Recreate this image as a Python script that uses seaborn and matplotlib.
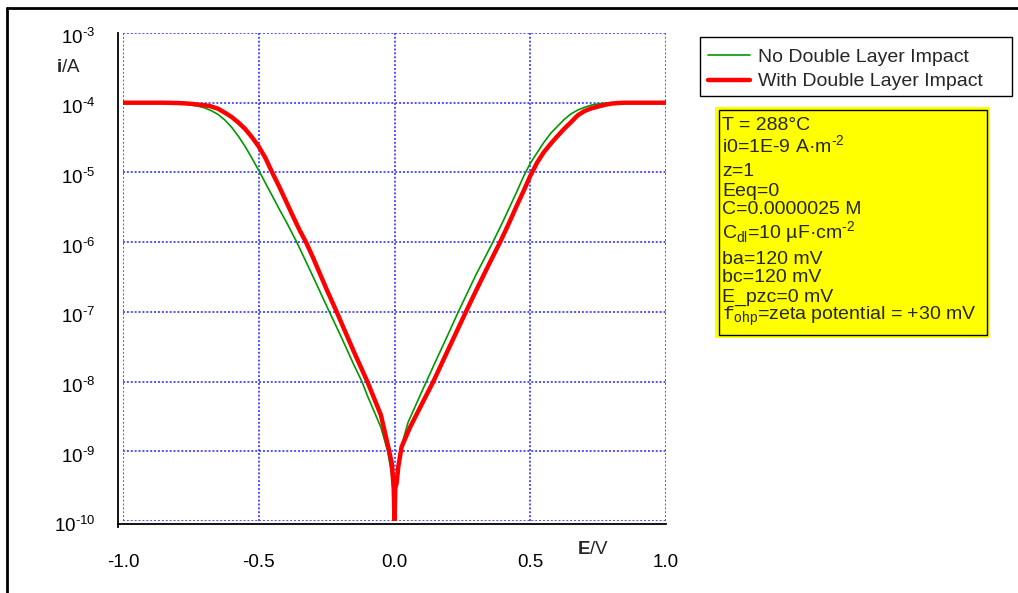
import matplotlib
matplotlib.use("Agg")
import matplotlib.pyplot as plt
import matplotlib.transforms as mtransforms
import seaborn as sns
import pandas as pd
from matplotlib.patches import Rectangle
from matplotlib.lines import Line2D

# potential (V) and current (A)
e_no_dl = [-1.00, -0.90, -0.80, -0.775, -0.75, -0.725, -0.70, -0.675, -0.65, -0.625,
           -0.60, -0.575, -0.55, -0.525, -0.50, -0.475, -0.45, -0.425, -0.40, -0.36,
           -0.30, -0.24, -0.20, -0.15, -0.12, -0.10, -0.05, -0.025, -0.01, -0.005, 0.0,
           0.005, 0.01, 0.02, 0.05, 0.10, 0.12, 0.15, 0.20, 0.235, 0.30,
           0.36, 0.40, 0.425, 0.45, 0.475, 0.50, 0.525, 0.55, 0.575, 0.60,
           0.625, 0.65, 0.675, 0.70, 0.725, 0.75, 0.775, 0.80, 0.85, 1.00]
i_no_dl = [1.0e-4, 1.0e-4, 9.8e-5, 9.6e-5, 9.3e-5, 8.95e-5, 8.45e-5, 7.7e-5, 6.8e-5, 5.65e-5,
           4.45e-5, 3.3e-5, 2.35e-5, 1.6e-5, 1.07e-5, 7.0e-6, 4.6e-6, 3.0e-6, 2.0e-6, 1.0e-6,
           3.2e-7, 1.0e-7, 4.7e-8, 1.75e-8, 1.0e-8, 6.3e-9, 2.2e-9, 1.0e-9, 4.5e-10, 2.5e-10, 1.0e-10,
           2.5e-10, 4.5e-10, 1.0e-9, 2.6e-9, 7.1e-9, 1.05e-8, 1.9e-8, 5.0e-8, 1.0e-7, 3.4e-7,
           9.6e-7, 2.0e-6, 3.24e-6, 5.25e-6, 8.7e-6, 1.35e-5, 1.91e-5, 2.69e-5, 3.63e-5, 4.57e-5,
           5.75e-5, 6.92e-5, 7.85e-5, 8.6e-5, 9.23e-5, 9.62e-5, 9.84e-5, 9.95e-5, 1.0e-4, 1.0e-4]

e_with_dl = [-1.00, -0.85, -0.80, -0.775, -0.75, -0.725, -0.70, -0.68, -0.65, -0.625,
             -0.60, -0.575, -0.55, -0.525, -0.50, -0.475, -0.45, -0.425, -0.40, -0.375,
             -0.35, -0.326, -0.30, -0.25, -0.213, -0.15, -0.10, -0.05, -0.023, -0.01,
             -0.003, 0.0,
             0.003, 0.008, 0.014, 0.026, 0.057, 0.10, 0.143, 0.20, 0.263, 0.30,
             0.35, 0.389, 0.425, 0.45, 0.475, 0.50, 0.525, 0.55, 0.575, 0.60,
             0.625, 0.65, 0.675, 0.70, 0.725, 0.75, 0.775, 0.80, 0.825, 0.85, 1.00]
i_with_dl = [1.0e-4, 1.0e-4, 9.9e-5, 9.8e-5, 9.65e-5, 9.4e-5, 9.2e-5, 8.95e-5, 8.2e-5, 7.2e-5,
             6.25e-5, 5.2e-5, 4.2e-5, 3.2e-5, 2.35e-5, 1.6e-5, 9.9e-6, 6.3e-6, 3.9e-6, 2.4e-6,
             1.5e-6, 1.0e-6, 6.0e-7, 2.1e-7, 1.0e-7, 2.7e-8, 1.0e-8, 3.3e-9, 1.15e-9, 6.7e-10,
             3.0e-10, 1.0e-10,
             3.0e-10, 3.5e-10, 6.0e-10, 1.15e-9, 2.2e-9, 4.7e-9, 1.0e-8, 3.0e-8, 1.0e-7, 2.0e-7,
             5.0e-7, 1.0e-6, 2.0e-6, 3.31e-6, 5.37e-6, 8.9e-6, 1.38e-5, 1.95e-5, 2.57e-5, 3.31e-5,
             4.22e-5, 5.25e-5, 6.6e-5, 7.6e-5, 8.3e-5, 8.8e-5, 9.33e-5, 9.73e-5, 9.91e-5, 1.0e-4, 1.0e-4]

x_ticks = [-1.0, -0.5, 0.0, 0.5, 1.0]
x_labels = ["-1.0", "-0.5", "0.0", "0.5", "1.0"]
y_exps = [-10, -9, -8, -7, -6, -5, -4, -3]

series_names = ["No Double Layer Impact", "With Double Layer Impact"]
series_colors = ["#009900", "#ff0000"]
series_widths = [1.2, 3.2]

params = [
    "T = 288°C",
    r"i0=1E-9 A·m$^{\text{-2}}$",
    "z=1",
    "Eeq=0",
    "C=0.0000025 M",
    r"C$_{\mathrm{dl}}$=10 µF·cm$^{\text{-2}}$",
    "ba=120 mV",
    "bc=120 mV",
    "E_pzc=0 mV",
    r"$\mathtt{f}_{\mathrm{ohp}}$=zeta potential = +30 mV",
]
param_y = [124, 147, 170, 189, 208, 233, 257, 276, 295, 313]

sns.set_style("white")
plt.rcParams["font.family"] = ["Liberation Sans", "DejaVu Sans"]
plt.rcParams["mathtext.fontset"] = "custom"
plt.rcParams["mathtext.rm"] = "Liberation Sans"
plt.rcParams["mathtext.bf"] = "Liberation Sans:bold"
plt.rcParams["mathtext.tt"] = "Liberation Mono"

W, H = 1018, 593
fig = plt.figure(figsize=(W / 100, H / 100), dpi=100)
ax = fig.add_axes([123 / W, 1 - 521 / H, (666 - 123) / W, (521 - 33) / H])

df_no = pd.DataFrame({"E": e_no_dl, "i": i_no_dl})
df_with = pd.DataFrame({"E": e_with_dl, "i": i_with_dl})
sns.lineplot(data=df_no, x="E", y="i", ax=ax, color=series_colors[0], lw=series_widths[0],
             estimator=None, sort=False, zorder=3)
sns.lineplot(data=df_with, x="E", y="i", ax=ax, color=series_colors[1], lw=series_widths[1],
             estimator=None, sort=False, zorder=4)

ax.set_yscale("log")
ax.set_xlim(-1.0, 1.0)
ax.set_ylim(1e-10, 1e-3)
ax.set_xticks(x_ticks)
ax.set_xticklabels(x_labels)
ax.set_yticks([10.0 ** k for k in y_exps])
ax.set_yticklabels([r"$10^{\text{%d}}$" % k for k in y_exps])
ax.yaxis.set_minor_locator(matplotlib.ticker.NullLocator())
ax.set_xlabel("")
ax.set_ylabel("")

ax.grid(True, color="#5050ff", lw=1.4, ls=(0, (1, 1)))
for s in ["top", "right"]:
    ax.spines[s].set_visible(False)
ax.spines["left"].set_position(("outward", 3.6))
ax.spines["bottom"].set_position(("outward", 2.2))
ax.spines["left"].set_bounds(10 ** -10.08, 1e-3)
ax.spines["bottom"].set_bounds(-1.018, 1.0)
for s in ["left", "bottom"]:
    ax.spines[s].set_color("black")
    ax.spines[s].set_linewidth(1.3)
ax.tick_params(axis="y", length=9.4, width=1.3, pad=7, labelsize=13.5, colors="black")
ax.tick_params(axis="x", length=8.6, width=1.3, pad=13, labelsize=13.5, colors="black")

# the "10" of each y label sits a little below its tick
shift = mtransforms.ScaledTranslation(0, -3 / 100, fig.dpi_scale_trans)
for lab in ax.get_yticklabels():
    lab.set_transform(lab.get_transform() + shift)

fig.text(68 / W, 1 - 68 / H, r"$\mathbf{i}$/A", fontsize=13.5, ha="center", va="center")
fig.text(593 / W, 1 - 549 / H, r"$\mathbf{E}$/V", fontsize=13.5, ha="center", va="center")

# legend box, drawn by hand to match the wide frame
fig.patches.append(Rectangle((700 / W, 1 - 96 / H), (1012 - 700) / W, (96 - 37) / H,
                             transform=fig.transFigure, facecolor="white",
                             edgecolor="black", lw=1.0))
for k, (name, col, lw) in enumerate(zip(series_names, series_colors, series_widths)):
    yy = 1 - (55 + 25 * k) / H
    fig.add_artist(Line2D([708 / W, 750 / W], [yy, yy], transform=fig.transFigure,
                          color=col, lw=lw))
    fig.text(758 / W, yy, name, fontsize=14, ha="left", va="center_baseline")

# parameter box
fig.patches.append(Rectangle((716 / W, 1 - 337 / H), (989 - 716) / W, (337 - 108) / H,
                             transform=fig.transFigure, facecolor="#ffff00",
                             edgecolor="#ffff00", lw=1.5))
fig.patches.append(Rectangle((718.5 / W, 1 - 334.5 / H), (986.5 - 718.5) / W, (334.5 - 110.5) / H,
                             transform=fig.transFigure, facecolor="none",
                             edgecolor="black", lw=1.0))
for txt, yy in zip(params, param_y):
    fig.text(722 / W, 1 - (yy + 6.5) / H, txt, fontsize=14, ha="left", va="baseline")

# outer frame
fig.add_artist(Line2D([7 / W, 1.0], [1 - 8 / H, 1 - 8 / H], transform=fig.transFigure,
                      color="black", lw=2.0))
fig.add_artist(Line2D([7 / W, 7 / W], [0.0, 1 - 8 / H], transform=fig.transFigure,
                      color="black", lw=2.0))

fig.savefig("out.png", dpi=100)
